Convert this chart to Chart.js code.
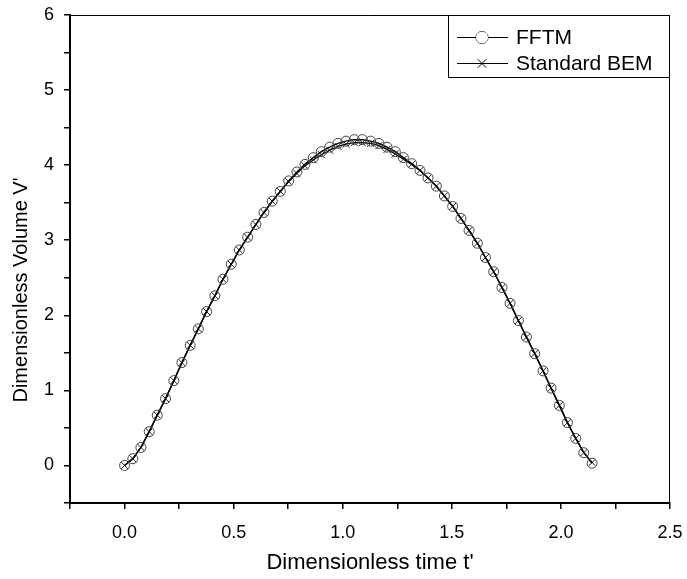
<!DOCTYPE html>
<html>
<head>
<meta charset="utf-8">
<script src="https://cdn.jsdelivr.net/npm/chart.js@4/dist/chart.umd.min.js"></script>
<style>
  html, body { margin: 0; padding: 0; background: #fff; }
  #wrap { width: 687px; height: 579px; }
</style>
</head>
<body>
<div id="wrap"><canvas id="volume"></canvas></div>
<script>
// dimensionless time t'
const temps = [0.000, 0.038, 0.075, 0.113, 0.150, 0.188, 0.226, 0.263, 0.301, 0.338,
    0.376, 0.414, 0.451, 0.489, 0.526, 0.564, 0.602, 0.639, 0.677, 0.714,
    0.752, 0.790, 0.827, 0.865, 0.902, 0.940, 0.978, 1.015, 1.053, 1.090,
    1.128, 1.166, 1.203, 1.241, 1.278, 1.316, 1.354, 1.391, 1.429, 1.466,
    1.504, 1.542, 1.579, 1.617, 1.654, 1.692, 1.730, 1.767, 1.805, 1.842,
    1.880, 1.918, 1.955, 1.993, 2.030, 2.068, 2.105, 2.143];
// volume V' - FFTM
const volFFTM = [0.00, 0.09, 0.24, 0.45, 0.67, 0.89, 1.13, 1.37, 1.60, 1.82,
    2.05, 2.26, 2.48, 2.68, 2.87, 3.04, 3.21, 3.37, 3.52, 3.65,
    3.79, 3.91, 4.01, 4.10, 4.18, 4.24, 4.29, 4.32, 4.34, 4.34,
    4.32, 4.29, 4.24, 4.18, 4.10, 4.02, 3.93, 3.83, 3.72, 3.59,
    3.45, 3.29, 3.13, 2.96, 2.77, 2.58, 2.37, 2.16, 1.93, 1.71,
    1.49, 1.26, 1.03, 0.80, 0.57, 0.36, 0.17, 0.03];
// volume V' - standard BEM
const volBEM = [0.00, 0.09, 0.24, 0.45, 0.67, 0.89, 1.13, 1.37, 1.60, 1.82,
    2.05, 2.26, 2.48, 2.68, 2.87, 3.04, 3.21, 3.37, 3.52, 3.65,
    3.78, 3.89, 3.99, 4.07, 4.14, 4.20, 4.25, 4.28, 4.30, 4.30,
    4.29, 4.26, 4.21, 4.15, 4.08, 4.01, 3.93, 3.83, 3.72, 3.59,
    3.45, 3.29, 3.13, 2.96, 2.77, 2.58, 2.37, 2.16, 1.93, 1.71,
    1.49, 1.26, 1.03, 0.80, 0.57, 0.36, 0.17, 0.04];
const nomsSeries = ['FFTM', 'Standard BEM'];
const titreY = "Dimensionless Volume V'";

const police = 'Liberation Sans, Arial, sans-serif';

function points(xs, ys) {
    let res = [];
    for (let i = 0; i < xs.length; i++) {
        res.push({ x: xs[i], y: ys[i] });
    }
    return res;
}

// cadre + legende + titre Y
const cadre = {
    id: 'cadre',
    afterDatasetsDraw(chart) {
        const ctx = chart.ctx;
        const a = chart.chartArea;
        ctx.save();
        ctx.strokeStyle = '#000';
        ctx.lineWidth = 1;
        ctx.beginPath();
        ctx.moveTo(a.left, a.top + 0.5);
        ctx.lineTo(a.right - 0.5, a.top + 0.5);
        ctx.lineTo(a.right - 0.5, a.bottom);
        ctx.stroke();

        // legende
        const bx = a.right - 222, by = a.top, bw = 222, bh = 63;
        ctx.fillStyle = '#fff';
        ctx.fillRect(bx, by, bw, bh);
        ctx.strokeRect(bx + 0.5, by + 0.5, bw - 1, bh - 1);
        ctx.font = '21px ' + police;
        ctx.textBaseline = 'middle';
        const styles = ['circle', 'crossRot'];
        for (let i = 0; i < nomsSeries.length; i++) {
            const cy = by + 22 + i * 26;
            ctx.strokeStyle = '#000';
            ctx.lineWidth = 1;
            ctx.beginPath();
            ctx.moveTo(bx + 9, cy + 0.5);
            ctx.lineTo(bx + 60, cy + 0.5);
            ctx.stroke();
            ctx.fillStyle = '#fff';
            Chart.helpers.drawPoint(ctx, { pointStyle: styles[i], radius: 6, borderWidth: 1 }, bx + 34, cy + 0.5);
            if (styles[i] === 'circle') {
                ctx.fill();
            }
            ctx.fillStyle = '#000';
            ctx.fillText(nomsSeries[i], bx + 68, cy + 1);
        }

        // titre de l'axe Y
        ctx.translate(21, 290);
        ctx.rotate(-Math.PI / 2);
        ctx.textAlign = 'center';
        ctx.font = '20px ' + police;
        ctx.fillText(titreY, 0, 0);
        ctx.restore();
    }
};

const ctx = document.getElementById('volume').getContext('2d');
const graphe = new Chart(ctx, {
    type: 'scatter',
    data: {
        datasets: [{
            label: nomsSeries[0],
            data: points(temps, volFFTM),
            showLine: true,
            borderColor: '#000',
            borderWidth: 1.5,
            pointStyle: 'circle',
            pointRadius: 5,
            pointBorderWidth: 1,
            pointBorderColor: '#444',
            pointBackgroundColor: 'rgba(0,0,0,0)',
        }, {
            label: nomsSeries[1],
            data: points(temps, volBEM),
            showLine: true,
            borderColor: '#000',
            borderWidth: 1.2,
            pointStyle: 'crossRot',
            pointRadius: 5,
            pointBorderWidth: 1,
            pointBorderColor: '#222',
        }]
    },
    options: {
        responsive: true,
        maintainAspectRatio: false,
        animation: false,
        layout: { padding: { top: 15, right: 17, left: 0, bottom: 0 } },
        plugins: {
            legend: { display: false },
            tooltip: { enabled: false }
        },
        scales: {
            x: {
                type: 'linear',
                min: -0.25,
                max: 2.5,
                afterFit: (s) => { s.height = 76; s.paddingLeft = 0; s.paddingRight = 0; },
                border: { display: true, color: '#000', width: 2 },
                grid: { drawOnChartArea: false, drawTicks: true, tickLength: 6, color: '#000', lineWidth: 1.5 },
                ticks: {
                    stepSize: 0.25,
                    color: '#000',
                    padding: 13,
                    maxRotation: 0,
                    autoSkip: false,
                    font: { family: police, size: 18 },
                    callback: (v) => (Math.abs(v * 2 - Math.round(v * 2)) < 1e-6 ? v.toFixed(1) : '')
                },
                title: {
                    display: true,
                    text: "Dimensionless time t'",
                    color: '#000',
                    font: { family: police, size: 22 },
                    padding: { top: 0, bottom: 3 }
                }
            },
            y: {
                type: 'linear',
                min: -0.5,
                max: 6,
                afterFit: (s) => { s.width = 70; s.paddingTop = 0; s.paddingBottom = 0; },
                border: { display: true, color: '#000', width: 2 },
                grid: { drawOnChartArea: false, drawTicks: true, tickLength: 6, color: '#000', lineWidth: 1.5 },
                ticks: {
                    stepSize: 0.5,
                    color: '#000',
                    padding: 10,
                    autoSkip: false,
                    font: { family: police, size: 18 },
                    callback: (v) => (Number.isInteger(v) ? String(v) : '')
                },
                title: { display: false }
            }
        }
    },
    plugins: [cadre]
});
</script>
</body>
</html>
